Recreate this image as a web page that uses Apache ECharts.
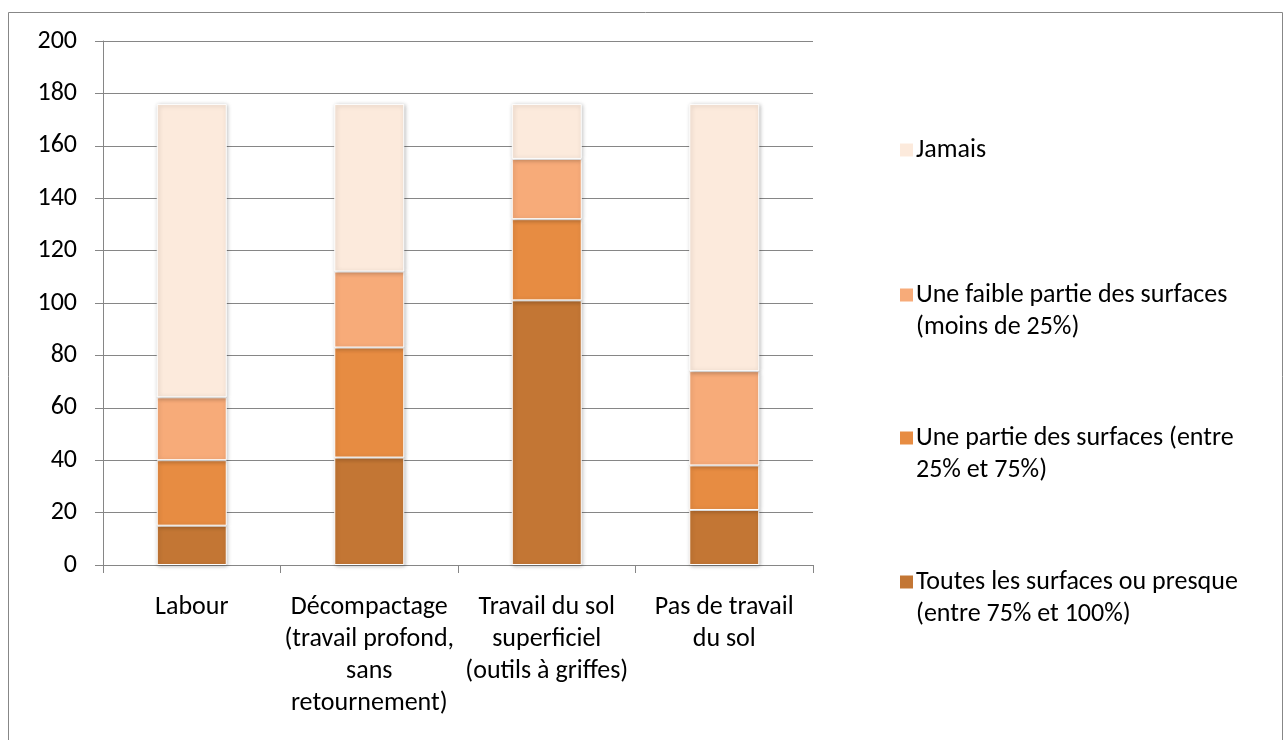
<!DOCTYPE html>
<html>
<head>
<meta charset="utf-8">
<script src="https://cdn.jsdelivr.net/npm/echarts@6/dist/echarts.min.js"></script>
<style>
  html, body { margin: 0; padding: 0; background: #fff; }
  #chart { width: 1284px; height: 740px; }
</style>
</head>
<body>
<div id="chart"></div>
<script>
const categories = [
  "Labour",
  "Décompactage\n(travail profond,\nsans\nretournement)",
  "Travail du sol\nsuperficiel\n(outils à griffes)",
  "Pas de travail\ndu sol"
];
const seriesNames = [
  "Toutes les surfaces ou presque (entre 75% et 100%)",
  "Une partie des surfaces (entre 25% et 75%)",
  "Une faible partie des surfaces (moins de 25%)",
  "Jamais"
];
// legend text, line-broken like the original
const legendLabels = [
  "Toutes les surfaces ou presque\n(entre 75% et 100%)",
  "Une partie des surfaces (entre\n25% et 75%)",
  "Une faible partie des surfaces\n(moins de 25%)",
  "Jamais"
];
const toutes = [15, 41, 101, 21];
const partie = [25, 42, 31, 17];
const faible = [24, 29, 23, 36];
const jamais = [112, 64, 21, 102];
const yTicks = { min: 0, max: 200, interval: 20 };

const colors = ["#c37634", "#e78c42", "#f7ab79", "#fceadc"];
const values = [toutes, partie, faible, jamais];
const font = "Carlito, Lato, sans-serif";

const myChart = echarts.init(document.getElementById("chart"));

// one legend per item so that the icon sits on the first text line
const legendTops = [529, 385, 242, 129];
const legends = seriesNames.map((name, i) => ({
  data: [name],
  orient: "vertical",
  left: 895,
  top: legendTops[i],
  itemWidth: 13,
  itemHeight: 13,
  icon: "rect",
  itemStyle: { borderWidth: 0 },
  selectedMode: false,
  formatter: () => (legendLabels[i].indexOf("\n") > -1 ? "\n" + legendLabels[i] : legendLabels[i]),
  textStyle: {
    fontFamily: font,
    fontSize: 26,
    lineHeight: 32,
    color: "#000",
    padding: [0, 0, 0, -2]
  }
}));

myChart.setOption({
  animation: false,
  graphic: [
    {
      type: "rect",
      shape: { x: 8.5, y: 12.5, width: 1274, height: 800 },
      style: { fill: null, stroke: "#878787", lineWidth: 1 },
      silent: true
    }
  ],
  grid: {
    left: 103,
    right: 471,
    top: 41,
    bottom: 175,
    containLabel: false
  },
  legend: legends,
  xAxis: {
    type: "category",
    data: categories,
    axisLine: { lineStyle: { color: "#868686", width: 1 } },
    axisTick: { show: true, length: 8, lineStyle: { color: "#868686" } },
    axisLabel: {
      interval: 0,
      margin: 26,
      fontFamily: font,
      fontSize: 26,
      lineHeight: 32,
      color: "#000",
      verticalAlign: "top"
    }
  },
  yAxis: {
    type: "value",
    min: yTicks.min,
    max: yTicks.max,
    interval: yTicks.interval,
    axisLine: { show: true, lineStyle: { color: "#868686", width: 1 } },
    axisTick: { show: true, length: 8, lineStyle: { color: "#868686" } },
    splitLine: { lineStyle: { color: "#868686", width: 1 } },
    axisLabel: {
      margin: 26,
      fontFamily: font,
      fontSize: 26,
      color: "#000"
    }
  },
  series: seriesNames.map((name, i) => ({
    name: name,
    type: "bar",
    stack: "total",
    barWidth: 70,
    itemStyle: {
      color: colors[i],
      borderColor: "#fff",
      borderWidth: 1,
      shadowBlur: 4,
      shadowColor: "rgba(0,0,0,0.25)",
      shadowOffsetX: 1,
      shadowOffsetY: 1
    },
    data: values[i]
  }))
});
</script>
</body>
</html>
